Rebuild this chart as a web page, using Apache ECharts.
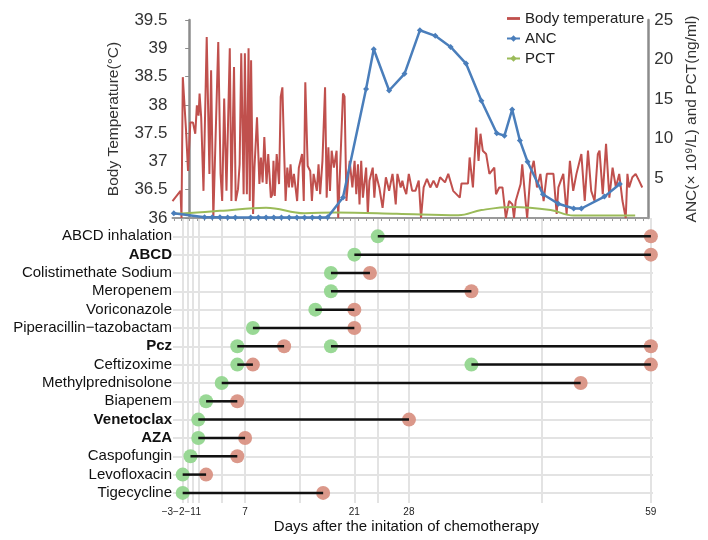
<!DOCTYPE html>
<html><head><meta charset="utf-8">
<script src="https://cdn.jsdelivr.net/npm/echarts@6/dist/echarts.min.js"></script>
<style>html,body{margin:0;padding:0;background:#fff}#c{width:708px;height:540px}</style>
</head><body><div id="c"></div>
<script>
// ---- top panel data (x in days after the initiation of chemotherapy) ----
const tempDays = [-2.17,-1.13,-1.0,-0.83,-0.41,-0.15,0.15,0.49,0.79,1.0,1.22,1.35,1.56,1.86,2.28,2.63,2.85,3.14,3.78,4.08,4.29,4.55,4.85,5.28,5.49,5.83,6.05,6.35,6.56,6.77,7.08,7.24,7.5,7.72,7.88,8.05,8.31,8.49,8.82,9.13,9.33,9.55,9.77,10.06,10.28,10.62,10.83,10.96,11.13,11.38,11.69,11.9,12.12,12.33,12.54,12.76,12.97,13.18,13.4,13.62,14.04,14.26,14.68,14.9,15.1,15.41,15.74,15.96,16.18,16.6,16.82,17.03,17.33,17.67,17.88,18.1,18.31,18.53,18.82,19.17,19.38,20.0,20.2,20.45,20.87,21.22,21.51,21.73,21.95,22.15,22.37,22.59,23.01,23.23,23.44,23.87,24.08,24.29,24.72,25.15,25.58,26.0,26.44,26.64,26.86,27.08,27.5,27.72,27.92,28.23,28.56,29.0,29.42,29.85,30.15,30.49,30.92,31.35,31.77,32.21,32.63,33.27,33.69,34.33,35.19,35.41,36.26,36.47,36.9,37.33,37.63,37.88,38.18,38.62,39.04,39.68,39.9,40.32,40.74,41.18,41.6,42.03,42.24,42.46,43.1,43.31,43.74,43.95,44.38,44.81,45.23,45.67,46.09,46.51,46.95,47.37,47.79,48.01,48.65,49.08,49.51,49.94,50.36,51.0,51.44,51.86,52.28,52.72,53.14,53.36,53.78,54.21,54.64,55.06,55.49,55.92,56.35,56.77,56.99,57.21,57.63,58.06,58.5,58.92];
const tempValues = [36.30,36.48,36.00,38.49,37.55,36.83,37.69,37.69,37.49,37.99,37.81,38.20,37.78,36.48,39.20,36.78,38.61,36.00,39.11,36.78,36.30,38.11,36.48,39.00,36.30,38.67,36.30,36.51,36.95,38.91,36.42,38.91,36.42,39.00,36.30,38.79,36.07,36.89,37.78,36.60,37.07,36.63,37.43,36.60,37.13,36.36,36.42,37.01,36.39,37.13,36.60,38.14,38.31,37.25,36.30,36.89,36.54,36.95,36.54,36.78,36.30,36.89,37.13,36.30,38.40,36.92,36.83,36.30,36.78,36.48,36.95,36.42,37.01,38.31,36.36,37.25,36.48,37.19,36.89,37.19,36.00,38.20,38.15,36.30,37.01,36.54,37.01,36.42,36.95,36.24,37.01,36.36,36.89,36.07,36.66,36.89,36.36,36.78,36.54,36.18,36.72,36.48,36.78,36.54,36.24,36.78,36.54,36.66,36.54,36.42,36.78,36.48,36.48,36.66,36.00,36.54,36.69,36.54,36.66,36.54,36.72,36.63,36.78,36.48,36.36,36.61,36.61,37.07,36.54,37.60,37.01,37.49,37.19,37.13,36.78,36.89,36.42,36.54,36.54,36.00,36.30,36.24,36.00,36.30,36.60,36.95,36.30,36.00,36.78,37.01,36.54,36.78,36.30,36.78,36.78,36.78,36.07,36.54,36.78,36.07,37.01,36.48,36.78,37.13,36.30,37.19,36.48,36.30,37.13,37.19,36.42,37.31,36.36,36.89,36.54,36.78,36.30,36.00,36.78,36.54,36.72,36.78,36.66,36.54];
const ancDays = [-2,2,3,4,5,6,8,9,10,11,12,13,14,15,16,17,18,20,23,24,26,28,30,32,34,36,38,40,41,42,43,44,46,48,50,51,54,56];
const ancValues = [0.6,0.1,0.1,0.08,0.05,0.05,0.05,0.05,0.05,0.05,0.05,0.05,0.05,0.05,0.05,0.05,0.1,2.6,16.3,21.3,16.1,18.2,23.7,23.0,21.6,19.5,14.8,10.7,10.4,13.7,9.8,7.1,3.0,1.8,1.2,1.2,2.7,4.3];
const pctDays = [-2,4,10,15,19,27,35,38,42,47,50,58];
const pctValues = [0.5,0.9,1.3,0.6,0.7,0.55,0.35,1.0,1.4,1.0,0.3,0.3];

// ---- bottom panel data ----
const drugs = ['ABCD inhalation','ABCD','Colistimethate Sodium','Meropenem','Voriconazole','Piperacillin\u2212tazobactam','Pcz','Ceftizoxime','Methylprednisolone','Biapenem','Venetoclax','AZA','Caspofungin','Levofloxacin','Tigecycline'];
const boldDrugs = ['ABCD','Pcz','Venetoclax','AZA'];
const courseDrug  = ['ABCD inhalation','ABCD','Colistimethate Sodium','Meropenem','Voriconazole','Piperacillin\u2212tazobactam','Pcz','Pcz','Ceftizoxime','Ceftizoxime','Methylprednisolone','Biapenem','Venetoclax','AZA','Caspofungin','Levofloxacin','Tigecycline'];
const courseStart = [24,21,18,18,16,8,6,18,6,36,4,2,1,1,0,-1,-1];
const courseEnd   = [59,59,23,36,21,21,12,59,8,59,50,6,28,7,6,2,17];
const dayTickLabels = ['\u22123','\u22122','\u22121','1','7','21','28','59'];
const dayTickPos = [-2.96,-1.5,-0.04,1,7,21,28,59];
const dayGridLines = [-1,-0.3,0.35,1,4,7,14,21,24,28,45,59];

const FONT = '"Liberation Sans", Arial, sans-serif';
const chart = echarts.init(document.getElementById('c'), null, {renderer:'canvas'});
const topTicks = []; for (let d = -2; d <= 59; d++) topTicks.push(d);
const rowIdx = drugs.map((_, i) => i);
const courseRow = courseDrug.map(n => drugs.indexOf(n));

chart.setOption({
  animation: false,
  backgroundColor: '#fff',
  textStyle: {fontFamily: FONT},
  legend: {
    orient: 'vertical', left: 501, top: 6, itemGap: 5, itemWidth: 13, itemHeight: 8,
    textStyle: {fontSize: 15, color: '#222', fontFamily: FONT},
    data: [
      {name: 'Body temperature', icon: 'path://M0,0h12v2.6h-12z'},
      {name: 'ANC'},
      {name: 'PCT'}
    ]
  },
  grid: [
    {left: 172.5, right: 53, top: 20, height: 198},
    {left: 173, width: 480, top: 218, height: 285},
    {left: 160, width: 492.8, top: 503, height: 1}
  ],
  xAxis: [
    {gridIndex: 0, type: 'value', min: -2.17, max: 59.69,
     axisLine: {lineStyle: {color: '#9a9a9a', width: 2}},
     axisTick: {show: true, customValues: topTicks, length: 3, lineStyle: {color: '#9a9a9a', width: 1}},
     axisLabel: {show: false}, splitLine: {show: false}},
    {gridIndex: 1, type: 'value', min: -2.24, max: 59.27,
     axisLine: {show: false},
     axisTick: {show: true, customValues: dayGridLines, length: 3, lineStyle: {color: '#e3e3e3', width: 2}},
     axisLabel: {show: false},
     splitLine: {show: true, lineStyle: {color: '#e3e3e3', width: 2}}},
    {gridIndex: 2, type: 'value', min: -3.91, max: 59.27,
     axisLine: {show: false}, axisTick: {show: false}, splitLine: {show: false},
     axisLabel: {customValues: dayTickPos, fontSize: 10, color: '#222', margin: 3, fontFamily: FONT,
       formatter: v => { let b = 0; dayTickPos.forEach((p, i) => { if (Math.abs(p - v) < Math.abs(dayTickPos[b] - v)) b = i; }); return dayTickLabels[b]; }},
     name: 'Days after the initation of chemotherapy', nameLocation: 'middle', nameGap: 15,
     nameTextStyle: {fontSize: 15, color: '#111', fontFamily: FONT}}
  ],
  yAxis: [
    {gridIndex: 0, type: 'value', min: 36, max: 39.5, interval: 0.5,
     axisLine: {show: true, lineStyle: {color: '#8c8c8c', width: 2.5}},
     axisTick: {show: true, length: 4, lineStyle: {color: '#8c8c8c'}},
     axisLabel: {fontSize: 17, color: '#333', margin: 5, fontFamily: FONT},
     splitLine: {show: false},
     name: 'Body Temperature(\u00B0C)', nameLocation: 'middle', nameGap: 51, nameRotate: 90,
     nameTextStyle: {fontSize: 15.5, color: '#333', fontFamily: FONT}},
    {gridIndex: 0, type: 'value', position: 'right', min: 0, max: 25, interval: 5,
     axisLine: {show: true, lineStyle: {color: '#8c8c8c', width: 2.5}},
     axisTick: {show: false},
     axisLabel: {fontSize: 17, color: '#333', margin: 6, fontFamily: FONT, formatter: v => v === 0 ? '' : String(v)},
     splitLine: {show: false},
     name: 'ANC(\u00D7 10\u2079/L) and PCT(ng/ml)', nameLocation: 'middle', nameGap: 31, nameRotate: 90,
     nameTextStyle: {fontSize: 15.5, color: '#333', fontFamily: FONT}},
    {gridIndex: 1, type: 'value', inverse: true, min: -1.0, max: 14.55,
     axisLine: {show: false},
     axisTick: {show: false, customValues: rowIdx},
     splitLine: {show: true, lineStyle: {color: '#e3e3e3', width: 2}},
     axisLabel: {customValues: rowIdx, margin: 1, fontSize: 15, color: '#111', fontFamily: FONT,
       formatter: v => { const n = drugs[Math.round(v)]; return boldDrugs.includes(n) ? '{b|' + n + '}' : n; },
       rich: {b: {fontWeight: 'bold', fontSize: 15, color: '#111', fontFamily: FONT}}}},
    {gridIndex: 2, type: 'value', show: false, min: 0, max: 1}
  ],
  series: [
    {name: 'Body temperature', type: 'line', xAxisIndex: 0, yAxisIndex: 0, symbol: 'none',
     lineStyle: {color: '#c0504d', width: 2}, itemStyle: {color: '#c0504d'}, z: 2,
     data: tempDays.map((d, i) => [d, tempValues[i]])},
    {name: 'PCT', type: 'line', xAxisIndex: 0, yAxisIndex: 1, smooth: 0.4, symbol: 'diamond', showSymbol: false, symbolSize: 6,
     lineStyle: {color: '#9bbb59', width: 2}, itemStyle: {color: '#9bbb59'}, z: 3,
     data: pctDays.map((d, i) => [d, pctValues[i]])},
    {name: 'ANC', type: 'line', xAxisIndex: 0, yAxisIndex: 1, symbol: 'diamond', symbolSize: 6,
     lineStyle: {color: '#4a7ebb', width: 2.5}, itemStyle: {color: '#4a7ebb'}, z: 4,
     data: ancDays.map((d, i) => [d, ancValues[i]])},
    {type: 'scatter', xAxisIndex: 1, yAxisIndex: 2, symbolSize: 14, z: 2,
     itemStyle: {color: '#93d68f', opacity: 0.95},
     data: courseStart.map((s, i) => [s, courseRow[i]])},
    {type: 'scatter', xAxisIndex: 1, yAxisIndex: 2, symbolSize: 14, z: 2,
     itemStyle: {color: '#d99284', opacity: 0.95},
     data: courseEnd.map((e, i) => [e, courseRow[i]])},
    {type: 'custom', xAxisIndex: 1, yAxisIndex: 2, z: 5,
     encode: {x: [0, 1], y: 2},
     data: courseStart.map((s, i) => [s, courseEnd[i], courseRow[i]]),
     renderItem: (params, api) => {
       const p1 = api.coord([api.value(0), api.value(2)]);
       const p2 = api.coord([api.value(1), api.value(2)]);
       return {type: 'line', shape: {x1: p1[0], y1: p1[1], x2: p2[0], y2: p2[1]}, style: {stroke: '#111', lineWidth: 2.5}};
     }}
  ]
});
</script></body></html>
